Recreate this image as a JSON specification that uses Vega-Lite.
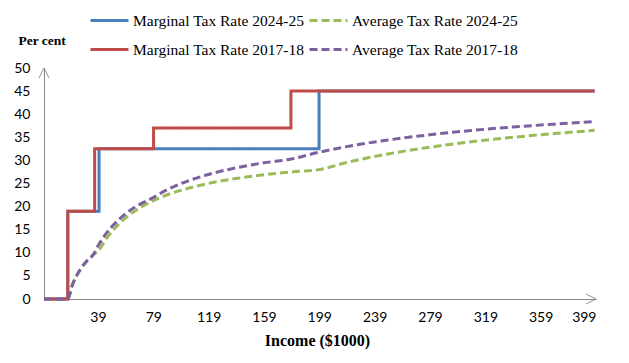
{
  "$schema": "https://vega.github.io/schema/vega-lite/v6.json",
  "width": 552,
  "height": 231,
  "autosize": {"type": "none"},
  "padding": {"left": 44, "top": 68, "right": 33, "bottom": 64},
  "background": "white",
  "config": {
    "view": {"stroke": null},
    "axis": {
      "grid": false,
      "ticks": false,
      "domainColor": "#868686",
      "domainWidth": 1,
      "labelFont": "Lato",
      "labelFontSize": 14,
      "labelColor": "#000000",
      "titleFont": "Liberation Serif",
      "titleFontSize": 16,
      "titleFontWeight": "bold",
      "titleColor": "#000000"
    }
  },
  "datasets": {
    "main": [
      {"s": "Marginal Tax Rate 2024-25", "x": 0, "y": 0},
      {"s": "Marginal Tax Rate 2024-25", "x": 17.2, "y": 19},
      {"s": "Marginal Tax Rate 2024-25", "x": 39.8, "y": 32.5},
      {"s": "Marginal Tax Rate 2024-25", "x": 198.8, "y": 45},
      {"s": "Marginal Tax Rate 2024-25", "x": 398, "y": 45},
      {"s": "Marginal Tax Rate 2017-18", "x": 0, "y": 0},
      {"s": "Marginal Tax Rate 2017-18", "x": 17.2, "y": 19},
      {"s": "Marginal Tax Rate 2017-18", "x": 36.6, "y": 32.5},
      {"s": "Marginal Tax Rate 2017-18", "x": 79.2, "y": 37},
      {"s": "Marginal Tax Rate 2017-18", "x": 178.5, "y": 45},
      {"s": "Marginal Tax Rate 2017-18", "x": 398, "y": 45},
      {"s": "Average Tax Rate 2024-25", "x": 0, "y": 0},
      {"s": "Average Tax Rate 2024-25", "x": 17.0, "y": 0},
      {"s": "Average Tax Rate 2024-25", "x": 20.8, "y": 3.28},
      {"s": "Average Tax Rate 2024-25", "x": 23.8, "y": 5.17},
      {"s": "Average Tax Rate 2024-25", "x": 26.8, "y": 6.65},
      {"s": "Average Tax Rate 2024-25", "x": 30.8, "y": 8.19},
      {"s": "Average Tax Rate 2024-25", "x": 35.8, "y": 9.65},
      {"s": "Average Tax Rate 2024-25", "x": 39.8, "y": 10.57},
      {"s": "Average Tax Rate 2024-25", "x": 43.8, "y": 12.52},
      {"s": "Average Tax Rate 2024-25", "x": 48.8, "y": 14.51},
      {"s": "Average Tax Rate 2024-25", "x": 53.8, "y": 16.15},
      {"s": "Average Tax Rate 2024-25", "x": 58.8, "y": 17.51},
      {"s": "Average Tax Rate 2024-25", "x": 68.8, "y": 19.65},
      {"s": "Average Tax Rate 2024-25", "x": 78.8, "y": 21.26},
      {"s": "Average Tax Rate 2024-25", "x": 88.8, "y": 22.51},
      {"s": "Average Tax Rate 2024-25", "x": 98.8, "y": 23.51},
      {"s": "Average Tax Rate 2024-25", "x": 118.8, "y": 25.01},
      {"s": "Average Tax Rate 2024-25", "x": 138.8, "y": 26.08},
      {"s": "Average Tax Rate 2024-25", "x": 158.8, "y": 26.88},
      {"s": "Average Tax Rate 2024-25", "x": 178.8, "y": 27.5},
      {"s": "Average Tax Rate 2024-25", "x": 198.8, "y": 28.0},
      {"s": "Average Tax Rate 2024-25", "x": 218.8, "y": 29.55},
      {"s": "Average Tax Rate 2024-25", "x": 248.8, "y": 31.4},
      {"s": "Average Tax Rate 2024-25", "x": 278.8, "y": 32.86},
      {"s": "Average Tax Rate 2024-25", "x": 308.8, "y": 34.03},
      {"s": "Average Tax Rate 2024-25", "x": 338.8, "y": 35.0},
      {"s": "Average Tax Rate 2024-25", "x": 368.8, "y": 35.81},
      {"s": "Average Tax Rate 2024-25", "x": 398, "y": 36.5},
      {"s": "Average Tax Rate 2017-18", "x": 0, "y": 0},
      {"s": "Average Tax Rate 2017-18", "x": 17.0, "y": 0},
      {"s": "Average Tax Rate 2017-18", "x": 20.8, "y": 3.28},
      {"s": "Average Tax Rate 2017-18", "x": 23.8, "y": 5.17},
      {"s": "Average Tax Rate 2017-18", "x": 26.8, "y": 6.65},
      {"s": "Average Tax Rate 2017-18", "x": 30.8, "y": 8.19},
      {"s": "Average Tax Rate 2017-18", "x": 35.8, "y": 9.65},
      {"s": "Average Tax Rate 2017-18", "x": 38.8, "y": 11.37},
      {"s": "Average Tax Rate 2017-18", "x": 43.8, "y": 13.72},
      {"s": "Average Tax Rate 2017-18", "x": 48.8, "y": 15.59},
      {"s": "Average Tax Rate 2017-18", "x": 53.8, "y": 17.13},
      {"s": "Average Tax Rate 2017-18", "x": 58.8, "y": 18.41},
      {"s": "Average Tax Rate 2017-18", "x": 68.8, "y": 20.42},
      {"s": "Average Tax Rate 2017-18", "x": 78.8, "y": 21.93},
      {"s": "Average Tax Rate 2017-18", "x": 88.8, "y": 23.61},
      {"s": "Average Tax Rate 2017-18", "x": 98.8, "y": 24.95},
      {"s": "Average Tax Rate 2017-18", "x": 118.8, "y": 26.96},
      {"s": "Average Tax Rate 2017-18", "x": 138.8, "y": 28.39},
      {"s": "Average Tax Rate 2017-18", "x": 158.8, "y": 29.47},
      {"s": "Average Tax Rate 2017-18", "x": 178.8, "y": 30.3},
      {"s": "Average Tax Rate 2017-18", "x": 198.8, "y": 31.77},
      {"s": "Average Tax Rate 2017-18", "x": 218.8, "y": 32.98},
      {"s": "Average Tax Rate 2017-18", "x": 248.8, "y": 34.42},
      {"s": "Average Tax Rate 2017-18", "x": 278.8, "y": 35.55},
      {"s": "Average Tax Rate 2017-18", "x": 308.8, "y": 36.47},
      {"s": "Average Tax Rate 2017-18", "x": 338.8, "y": 37.22},
      {"s": "Average Tax Rate 2017-18", "x": 368.8, "y": 37.85},
      {"s": "Average Tax Rate 2017-18", "x": 398, "y": 38.39}
    ],
    "arrows": [
      {"a": "x", "x": 399, "y": 0},
      {"a": "y", "x": 0, "y": 50}
    ]
  },
  "data": {"name": "main"},
  "encoding": {
    "x": {
      "field": "x",
      "type": "quantitative",
      "scale": {"domain": [0, 399], "nice": false, "zero": false},
      "axis": {
        "values": [39, 79, 119, 159, 199, 239, 279, 319, 359, 399],
        "title": "Income ($1000)",
        "labelPadding": 11,
        "titleBaseline": "middle",
        "titleAlign": "center",
        "titleX": 273,
        "titleY": 41
      }
    },
    "y": {
      "field": "y",
      "type": "quantitative",
      "scale": {"domain": [0, 50], "nice": false},
      "axis": {
        "values": [0, 5, 10, 15, 20, 25, 30, 35, 40, 45, 50],
        "title": "Per cent",
        "titleFontSize": 13.5,
        "titleAngle": 0,
        "titleAlign": "left",
        "titleBaseline": "middle",
        "titleX": -26,
        "titleY": -28,
        "labelPadding": 14
      }
    },
    "color": {
      "field": "s",
      "type": "nominal",
      "scale": {
        "domain": ["Marginal Tax Rate 2024-25", "Marginal Tax Rate 2017-18", "Average Tax Rate 2024-25", "Average Tax Rate 2017-18"],
        "range": ["#4A7EBB", "#BE4B48", "#9BBB59", "#7D60A0"]
      },
      "legend": {
        "title": null,
        "orient": "none",
        "legendX": 45,
        "legendY": -68,
        "columns": 2,
        "padding": 0,
        "symbolType": "stroke",
        "symbolSize": 1444,
        "symbolStrokeWidth": 3,
        "labelFont": "Liberation Serif",
        "labelFontSize": 15.5,
        "labelColor": "#000000",
        "labelOffset": 3,
        "labelLimit": 300,
        "columnPadding": -2,
        "rowPadding": -3
      }
    },
    "strokeDash": {
      "field": "s",
      "type": "nominal",
      "scale": {
        "domain": ["Marginal Tax Rate 2024-25", "Marginal Tax Rate 2017-18", "Average Tax Rate 2024-25", "Average Tax Rate 2017-18"],
        "range": [[1, 0], [1, 0], [8, 4], [8, 4]]
      },
      "legend": {
        "title": null,
        "orient": "none",
        "legendX": 45,
        "legendY": -68,
        "columns": 2,
        "padding": 0,
        "symbolType": "stroke",
        "symbolSize": 1444,
        "symbolStrokeWidth": 3,
        "labelFont": "Liberation Serif",
        "labelFontSize": 15.5,
        "labelColor": "#000000",
        "labelOffset": 3,
        "labelLimit": 300,
        "columnPadding": -2,
        "rowPadding": -3
      }
    }
  },
  "layer": [
    {
      "transform": [{"filter": "datum.s === 'Marginal Tax Rate 2024-25'"}],
      "mark": {"type": "line", "interpolate": "step-after", "strokeWidth": 3}
    },
    {
      "transform": [{"filter": "datum.s === 'Average Tax Rate 2024-25'"}],
      "mark": {"type": "line", "interpolate": "monotone", "strokeWidth": 3}
    },
    {
      "transform": [{"filter": "datum.s === 'Marginal Tax Rate 2017-18'"}],
      "mark": {"type": "line", "interpolate": "step-after", "strokeWidth": 3}
    },
    {
      "transform": [{"filter": "datum.s === 'Average Tax Rate 2017-18'"}],
      "mark": {"type": "line", "interpolate": "monotone", "strokeWidth": 3}
    },
    {
      "data": {"name": "arrows"},
      "transform": [{"filter": "datum.a === 'x'"}],
      "mark": {"type": "point", "shape": "M -2 -1 L 0 0 L -2 1", "filled": false, "size": 100, "strokeWidth": 1, "opacity": 1},
      "encoding": {
        "color": {"value": "#868686"},
        "strokeDash": {"value": [1, 0]}
      }
    },
    {
      "data": {"name": "arrows"},
      "transform": [{"filter": "datum.a === 'y'"}],
      "mark": {"type": "point", "shape": "M -1 2 L 0 0 L 1 2", "filled": false, "size": 100, "strokeWidth": 1, "opacity": 1},
      "encoding": {
        "color": {"value": "#868686"},
        "strokeDash": {"value": [1, 0]}
      }
    }
  ]
}
